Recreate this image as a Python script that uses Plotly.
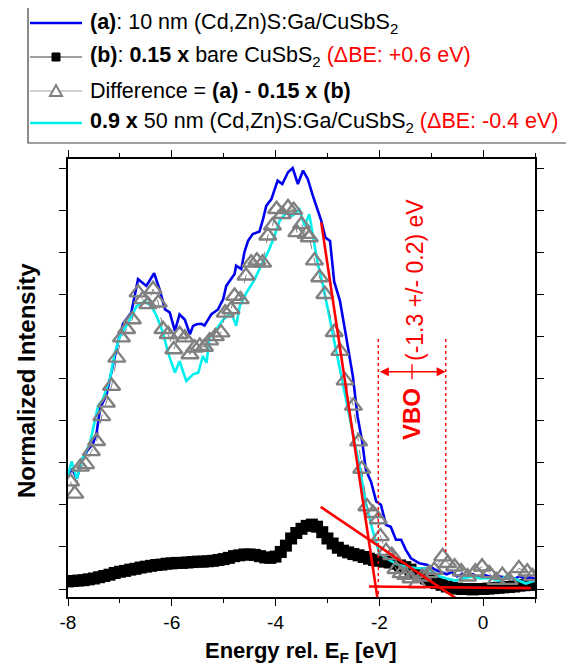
import plotly.graph_objects as go

# ---------------- data ----------------
blue_E = [-8.00, -7.92, -7.83, -7.72, -7.62, -7.52, -7.45, -7.38, -7.26, -7.13, -7.04, -6.94, -6.78,
          -6.65, -6.49, -6.34, -6.23, -6.13, -6.04, -5.94, -5.85, -5.75, -5.65, -5.59, -5.52, -5.43,
          -5.37, -5.30, -5.24, -5.11, -5.01, -4.95, -4.79, -4.76, -4.66, -4.60, -4.53, -4.44, -4.31,
          -4.24, -4.18, -4.08, -3.96, -3.87, -3.76, -3.67, -3.57, -3.47, -3.38, -3.28, -3.19, -3.12,
          -3.04, -2.95, -2.87, -2.76, -2.64, -2.51, -2.42, -2.33, -2.26, -2.16, -2.06, -1.97, -1.87,
          -1.78, -1.68, -1.58, -1.49, -1.39, -1.23, -1.07, -0.91, -0.80, -0.70, -0.60, -0.50, -0.40,
          -0.30, -0.20, -0.10, 0.00, 0.10, 0.20, 0.30, 0.40, 0.50, 0.60, 0.70, 0.80, 0.90, 1.00]
blue_I = [0.270, 0.285, 0.262, 0.310, 0.330, 0.345, 0.370, 0.430, 0.460, 0.530, 0.585, 0.630, 0.657,
          0.736, 0.720, 0.750, 0.710, 0.664, 0.657, 0.613, 0.652, 0.640, 0.605, 0.625, 0.629, 0.630,
          0.626, 0.640, 0.652, 0.664, 0.688, 0.720, 0.748, 0.768, 0.760, 0.800, 0.827, 0.843, 0.849,
          0.879, 0.910, 0.926, 0.970, 0.962, 0.990, 1.000, 0.962, 0.994, 0.974, 0.934, 0.902, 0.875,
          0.835, 0.827, 0.730, 0.685, 0.600, 0.505, 0.410, 0.350, 0.283, 0.255, 0.208, 0.200, 0.152,
          0.148, 0.117, 0.117, 0.093, 0.073, 0.061, 0.057, 0.045, 0.040, 0.035, 0.040, 0.030, 0.036,
          0.030, 0.035, 0.028, 0.034, 0.030, 0.027, 0.031, 0.026, 0.030, 0.024, 0.030, 0.025, 0.028, 0.024]

cyan_E = [-8.00, -7.93, -7.83, -7.72, -7.58, -7.48, -7.42, -7.33, -7.19, -7.10, -7.00, -6.84, -6.68,
          -6.52, -6.39, -6.29, -6.17, -6.07, -5.94, -5.85, -5.72, -5.59, -5.49, -5.40, -5.33, -5.27,
          -5.14, -5.01, -4.85, -4.76, -4.69, -4.56, -4.40, -4.28, -4.12, -4.02, -3.92, -3.79, -3.67,
          -3.54, -3.44, -3.35, -3.28, -3.19, -3.09, -2.97, -2.85, -2.71, -2.51, -2.38, -2.26, -2.13,
          -2.00, -1.81, -1.65, -1.49, -1.30, -1.10, -0.95, -0.85, -0.70, -0.53, -0.40, -0.21, -0.05,
          0.12, 0.30, 0.44, 0.60, 0.82, 1.00]
cyan_I = [0.270, 0.303, 0.262, 0.310, 0.345, 0.400, 0.435, 0.450, 0.500, 0.560, 0.600, 0.632, 0.672,
          0.684, 0.672, 0.648, 0.609, 0.561, 0.514, 0.541, 0.494, 0.510, 0.514, 0.553, 0.537, 0.600,
          0.617, 0.640, 0.656, 0.625, 0.672, 0.704, 0.736, 0.768, 0.807, 0.839, 0.875, 0.894, 0.887,
          0.902, 0.863, 0.890, 0.839, 0.775, 0.724, 0.650, 0.577, 0.490, 0.365, 0.290, 0.204, 0.140,
          0.085, 0.069, 0.058, 0.053, 0.050, 0.049, 0.040, 0.030, 0.025, 0.020, 0.025, 0.030, 0.025,
          0.026, 0.020, 0.030, 0.025, 0.013, 0.020]

bare_E = [round(-8.0 + 0.1 * i, 1) for i in range(91)]
bare_I = [0.018, 0.019, 0.020, 0.021, 0.023, 0.025, 0.028, 0.031, 0.034, 0.038,
          0.041, 0.043, 0.046, 0.048, 0.051, 0.053, 0.055, 0.057, 0.058, 0.060,
          0.061, 0.062, 0.062, 0.063, 0.064, 0.065, 0.065, 0.066, 0.067, 0.069,
          0.071, 0.074, 0.078, 0.080, 0.082, 0.082, 0.081, 0.078, 0.075, 0.074,
          0.077, 0.088, 0.103, 0.120, 0.133, 0.143, 0.150, 0.153, 0.148, 0.135,
          0.120, 0.108, 0.098, 0.091, 0.087, 0.083, 0.080, 0.076, 0.072, 0.069,
          0.067, 0.065, 0.063, 0.060, 0.056, 0.052, 0.046, 0.038, 0.031, 0.025,
          0.019, 0.014, 0.010, 0.006, 0.003, 0.001, 0.000, 0.000, -0.001, 0.000,
          0.000, 0.001, 0.002, 0.003, 0.004, 0.005, 0.006, 0.008, 0.009, 0.010, 0.010]

diff_E = [-7.95, -7.87, -7.76, -7.66, -7.55, -7.45, -7.35, -7.26, -7.16, -7.06, -6.97, -6.87, -6.76,
          -6.65, -6.56, -6.46, -6.36, -6.26, -6.17, -6.07, -5.96, -5.85, -5.75, -5.65, -5.56, -5.46,
          -5.37, -5.27, -5.16, -5.05, -4.97, -4.86, -4.79, -4.68, -4.57, -4.47, -4.36, -4.25, -4.15,
          -4.06, -3.98, -3.87, -3.76, -3.65, -3.59, -3.50, -3.41, -3.35, -3.25, -3.15, -3.05, -2.87,
          -2.76, -2.66, -2.50, -2.40, -2.34, -2.24, -2.12, -2.02, -1.98, -1.87, -1.76, -1.68, -1.58,
          -1.49, -1.39, -1.27, -1.17, -1.05, -0.94, -0.78, -0.68, -0.55, -0.42, -0.30, -0.15, -0.02,
          0.12, 0.25, 0.37, 0.50, 0.69, 0.85, 0.95]
diff_I = [0.255, 0.226, 0.290, 0.296, 0.327, 0.351, 0.410, 0.442, 0.482, 0.549, 0.597, 0.617, 0.640,
          0.704, 0.688, 0.676, 0.712, 0.680, 0.617, 0.605, 0.569, 0.605, 0.597, 0.557, 0.573, 0.577,
          0.575, 0.590, 0.600, 0.609, 0.656, 0.664, 0.696, 0.688, 0.744, 0.775, 0.780, 0.775, 0.839,
          0.863, 0.902, 0.890, 0.906, 0.900, 0.847, 0.866, 0.843, 0.835, 0.780, 0.740, 0.700, 0.610,
          0.565, 0.495, 0.435, 0.350, 0.285, 0.196, 0.180, 0.165, 0.125, 0.090, 0.080, 0.047, 0.037,
          0.033, 0.025, 0.013, 0.029, 0.037, 0.045, 0.077, 0.061, 0.053, 0.041, 0.029, 0.041, 0.053,
          0.037, 0.021, 0.033, 0.021, 0.049, 0.041, 0.030]

# linear fits (leading edge, background, bare-sample edge)
fit_edge_E = [-3.12, -2.04]
fit_edge_I = [0.871, -0.019]
fit_base_E = [-2.20, 0.92]
fit_base_I = [0.006, 0.002]
fit_bare_E = [-3.13, -0.44]
fit_bare_I = [0.195, -0.029]

vbo_left, vbo_right = -2.02, -0.72
vbo_top, vbo_arrow_y, vbo_right_bottom = 0.594, 0.516, 0.086

x_ticks = [-8, -6, -4, -2, 0]
x_ticklabels = ["-8", "-6", "-4", "-2", "0"]

# ---------------- layout geometry (window pixel coordinates) ----------------
OFF = 8                      # default page margin of the html body
WIN_W, WIN_H = 574, 668
L, R, T, B = 68, 535, 159, 597
FONT = "Liberation Sans, Arial, sans-serif"
BLUE, CYAN, RED, GRAY = "#0000F0", "#00F0F0", "#FF0000", "#808080"

def pxx(x):
    return (x - L) / (R - L)

def pxy(y):
    return (B - y) / (B - T)

fig = go.Figure()

fig.add_trace(go.Scatter(x=bare_E, y=bare_I, mode="lines+markers",
                         line=dict(color="#404040", width=1),
                         marker=dict(symbol="square", size=12, color="black"),
                         showlegend=False))
fig.add_trace(go.Scatter(x=blue_E, y=blue_I, mode="lines",
                         line=dict(color=BLUE, width=2.6), showlegend=False))
fig.add_trace(go.Scatter(x=cyan_E, y=cyan_I, mode="lines",
                         line=dict(color=CYAN, width=2.6), showlegend=False))
fig.add_trace(go.Scatter(x=diff_E, y=diff_I, mode="lines+markers",
                         line=dict(color=GRAY, width=1, dash="dash"),
                         marker=dict(symbol="triangle-up-open", size=15,
                                     line=dict(color=GRAY, width=2.4)),
                         showlegend=False))
for fe, fi in [(fit_edge_E, fit_edge_I), (fit_base_E, fit_base_I), (fit_bare_E, fit_bare_I)]:
    fig.add_trace(go.Scatter(x=fe, y=fi, mode="lines", line=dict(color=RED, width=2.6),
                             showlegend=False))

# VBO dotted lines
fig.add_trace(go.Scatter(x=[vbo_left, vbo_left], y=[vbo_top, -0.02], mode="lines",
                         line=dict(color=RED, width=1.4, dash="dot"), showlegend=False))
fig.add_trace(go.Scatter(x=[vbo_right, vbo_right], y=[vbo_top, vbo_right_bottom], mode="lines",
                         line=dict(color=RED, width=1.4, dash="dot"), showlegend=False))
mid = (vbo_left + vbo_right) / 2
fig.add_trace(go.Scatter(x=[mid, mid], y=[vbo_arrow_y + 0.018, vbo_arrow_y - 0.018], mode="lines",
                         line=dict(color=RED, width=1.4), showlegend=False))

annotations = []
annotations.append(dict(x=vbo_right, y=vbo_arrow_y, ax=vbo_left, ay=vbo_arrow_y,
                        xref="x", yref="y", axref="x", ayref="y", text="",
                        showarrow=True, arrowhead=2, arrowside="end+start",
                        arrowsize=1.3, arrowwidth=1.4, arrowcolor=RED))

def ann(x, y, text, size, color="black", angle=0, xanchor="center"):
    annotations.append(dict(x=pxx(x), y=pxy(y), xref="paper", yref="paper",
                            xanchor=xanchor, yanchor="middle", text=text, textangle=angle,
                            showarrow=False, font=dict(family=FONT, size=size, color=color)))

ann(415, 280, "(-1.3 +/- 0.2) eV", 23, RED, -90)
ann(411, 414, "<b>VBO</b>", 24, RED, -90)
ann(301, 652, "<b>Energy rel. E<sub>F</sub> [eV]</b>", 22)
ann(26, 381, "<b>Normalized Intensity</b>", 24, angle=-90)

# ---------------- legend (drawn manually) ----------------
shapes = []
shapes.append(dict(type="rect", xref="paper", yref="paper",
                   x0=pxx(28), x1=pxx(600), y0=pxy(7), y1=pxy(143),
                   line=dict(color="#404040", width=1.2), fillcolor="white", layer="above"))
rows = [23, 57, 91, 123]
legend_texts = [
    "<b>(a)</b>: 10 nm (Cd,Zn)S:Ga/CuSbS<sub>2</sub>",
    "<b>(b)</b>: <b>0.15 x</b> bare CuSbS<sub>2</sub> <span style='color:#FF0000'>(ΔBE: +0.6 eV)</span>",
    "Difference = <b>(a)</b> - <b>0.15 x (b)</b>",
    "<b>0.9 x</b> 50 nm (Cd,Zn)S:Ga/CuSbS<sub>2</sub> <span style='color:#FF0000'>(ΔBE: -0.4 eV)</span>",
]
sample_colors = [BLUE, "#404040", "#A0A0A0", CYAN]
sample_widths = [2.6, 1.2, 1.2, 2.6]
for ry, txt, c, w in zip(rows, legend_texts, sample_colors, sample_widths):
    shapes.append(dict(type="line", xref="paper", yref="paper",
                       x0=pxx(30), x1=pxx(82), y0=pxy(ry), y1=pxy(ry),
                       line=dict(color=c, width=w), layer="above"))
    ann(88, ry, txt, 21.5, xanchor="left")
# square marker for (b)
shapes.append(dict(type="rect", xref="paper", yref="paper",
                   x0=pxx(52), x1=pxx(60), y0=pxy(rows[1] - 4), y1=pxy(rows[1] + 4),
                   line=dict(color="black", width=1), fillcolor="black", layer="above"))
# open triangle for difference
ty = rows[2]
tri_path = "M {x0} {y0} L {x1} {y1} L {x2} {y2} Z".format(
    x0=pxx(50), y0=pxy(ty + 5), x1=pxx(62), y1=pxy(ty + 5), x2=pxx(56), y2=pxy(ty - 6))
shapes.append(dict(type="path", xref="paper", yref="paper", path=tri_path,
                   line=dict(color=GRAY, width=2), fillcolor="white", layer="above"))

axis_common = dict(showline=True, linecolor="black", linewidth=1.5, mirror="ticks",
                   ticks="outside", tickcolor="black", tickwidth=1.3, ticklen=7,
                   showgrid=False, zeroline=False)

fig.update_layout(
    width=WIN_W - OFF, height=WIN_H - OFF,
    margin=dict(l=L - OFF, r=WIN_W - R, t=T - OFF, b=WIN_H - B),
    paper_bgcolor="white", plot_bgcolor="white",
    showlegend=False,
    font=dict(family=FONT, size=19, color="black"),
    xaxis=dict(range=[-8, 1], tickvals=x_ticks, ticktext=x_ticklabels,
               tickfont=dict(family=FONT, size=19, color="black"),
               minor=dict(dtick=1, tick0=0, ticks="outside", ticklen=4, tickcolor="black",
                          tickwidth=1.3),
               **axis_common),
    yaxis=dict(range=[-0.019, 1.0214], tick0=0, dtick=0.1, showticklabels=False,
               **axis_common),
    shapes=shapes,
    annotations=annotations,
)

fig.write_html("out.html")
